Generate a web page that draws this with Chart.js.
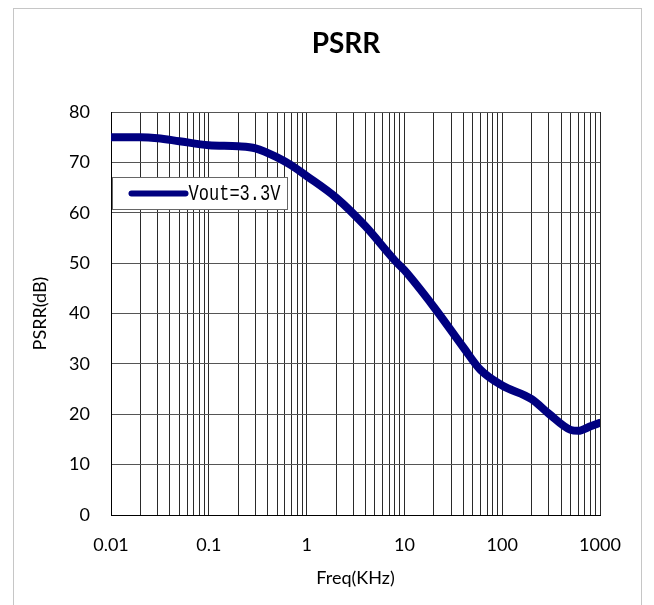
<!DOCTYPE html>
<html>
<head>
<meta charset="utf-8">
<title>PSRR</title>
<script src="https://cdn.jsdelivr.net/npm/chart.js@4.4.1/dist/chart.umd.min.js"></script>
<style>
  body { margin: 0; background: #fff; }
  .frame { position: absolute; left: 13px; top: 8px; width: 627px; height: 640px; border: 1px solid #c6c6c6; }
  #psrrChart { position: absolute; left: 0; top: 0; }
</style>
</head>
<body>
<div class="frame"></div>
<canvas id="psrrChart" width="654" height="605"></canvas>

<script>
  // values (frequency in kHz, PSRR in dB)
  const freqKHz    = [0.01, 0.02, 0.03, 0.05, 0.1, 0.2, 0.3, 0.5, 0.7, 1, 2, 4, 8, 10, 20, 40, 60, 100, 200, 300, 500, 600, 800, 1000];
  const psrrVout33 = [75.0, 75.0, 74.8, 74.2, 73.4, 73.2, 72.8, 71.0, 69.4, 67.3, 63.0, 57.3, 50.5, 48.6, 41.3, 33.3, 28.8, 25.7, 23.0, 20.1, 16.9, 16.7, 17.6, 18.3];
  const seriesLabel = "Vout=3.3V";
  const decadeTicks = [0.01, 0.1, 1, 10, 100, 1000];
  const dbTicks = [0, 10, 20, 30, 40, 50, 60, 70, 80];

  Chart.defaults.font.family = "Lato";
  Chart.defaults.font.size = 18;
  Chart.defaults.color = "#000";

  // chart title, drawn a bit left of plot centre like the original
  const titlePlugin = {
    id: "psrrTitle",
    afterDraw(chart) {
      const c = chart.ctx;
      c.save();
      c.font = "bold 28px Lato";
      c.fillStyle = "#000";
      c.textAlign = "center";
      c.textBaseline = "middle";
      c.fillText("PSRR", 346, 44);
      c.restore();
    }
  };

  // boxed legend sitting inside the plot area
  const boxLegend = {
    id: "boxLegend",
    afterDraw(chart) {
      const c = chart.ctx;
      const ds = chart.data.datasets[0];
      const a = chart.chartArea;
      const x = a.left + 1.5, y = 177.5, w = 175, h = 32;
      c.save();
      c.fillStyle = "#fff";
      c.fillRect(x, y, w, h);
      c.strokeStyle = "#666";
      c.lineWidth = 1;
      c.strokeRect(x, y, w, h);
      c.strokeStyle = ds.borderColor;
      c.lineWidth = 6;
      c.lineCap = "round";
      c.beginPath();
      c.moveTo(x + 19, y + 16);
      c.lineTo(x + 73, y + 16);
      c.stroke();
      c.fillStyle = "#000";
      c.font = "22px 'Liberation Mono'";
      c.textBaseline = "middle";
      c.fillText(ds.label, x + 76, y + 17, 92);
      c.restore();
    }
  };

  const ctx = document.getElementById("psrrChart");
  const psrrChart = new Chart(ctx, {
    type: "line",
    data: {
      datasets: [{
        label: seriesLabel,
        data: freqKHz.map((f, i) => ({ x: f, y: psrrVout33[i] })),
        borderColor: "#000080",
        borderWidth: 8,
        borderCapStyle: "round",
        pointRadius: 0,
        fill: false,
        cubicInterpolationMode: "monotone"
      }]
    },
    options: {
      responsive: false,
      animation: false,
      layout: { padding: { left: 29, right: 54, top: 112, bottom: 16 } },
      plugins: {
        legend: { display: false },
        tooltip: { enabled: false },
        title: { display: false }
      },
      scales: {
        x: {
          type: "logarithmic",
          min: 0.01,
          max: 1000,
          afterBuildTicks(scale) {
            const t = [];
            decadeTicks.forEach((d, i) => {
              t.push({ value: d, major: true });
              if (i < decadeTicks.length - 1) {
                for (let k = 2; k <= 9; k++) t.push({ value: d * k });
              }
            });
            scale.ticks = t;
          },
          afterFit(scale) { scale.height = 74; },
          grid: { color: "#2a2a2a", lineWidth: 1, drawTicks: false },
          border: { color: "#000", width: 1 },
          ticks: {
            padding: 19,
            autoSkip: false,
            maxRotation: 0,
            callback: (v) => decadeTicks.includes(v) ? String(v) : ""
          },
          title: { display: true, text: "Freq(KHz)", padding: 0 }
        },
        y: {
          min: 0,
          max: 80,
          afterBuildTicks(scale) {
            scale.ticks = dbTicks.map(v => ({ value: v }));
          },
          afterFit(scale) { scale.width = 82; },
          grid: { color: "#555", lineWidth: 1, drawTicks: false },
          border: { color: "#000", width: 1 },
          ticks: { padding: 21 },
          title: { display: true, text: "PSRR(dB)", padding: 0 }
        }
      }
    },
    plugins: [titlePlugin, boxLegend]
  });
</script>
</body>
</html>
